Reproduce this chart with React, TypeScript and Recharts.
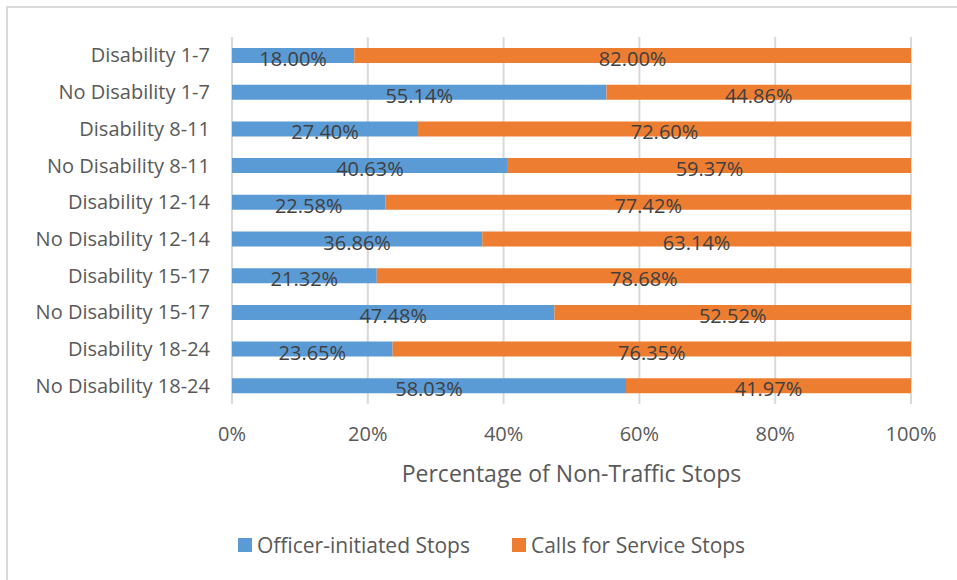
import React from 'react';
import { BarChart, Bar, XAxis, YAxis, CartesianGrid, LabelList } from 'recharts';

const categories = [
  'Disability 1-7',
  'No Disability 1-7',
  'Disability 8-11',
  'No Disability 8-11',
  'Disability 12-14',
  'No Disability 12-14',
  'Disability 15-17',
  'No Disability 15-17',
  'Disability 18-24',
  'No Disability 18-24',
];
const officerInitiated = [18.0, 55.14, 27.4, 40.63, 22.58, 36.86, 21.32, 47.48, 23.65, 58.03];
const callsForService = [82.0, 44.86, 72.6, 59.37, 77.42, 63.14, 78.68, 52.52, 76.35, 41.97];
const xTicks = [0, 20, 40, 60, 80, 100];
const seriesNames = ['Officer-initiated Stops', 'Calls for Service Stops'];
const seriesColors = ['#5B9BD5', '#ED7D31'];

const data = categories.map((c, i) => ({
  name: c,
  officer: officerInitiated[i],
  calls: callsForService[i],
}));

const FONT = '"Open Sans", "Liberation Sans", sans-serif';

const renderValue = (props: any) => {
  const { x, y, width, height, value } = props;
  return (
    <text
      x={Number(x) + Number(width) / 2}
      y={Number(y) + Number(height) / 2 + 3}
      textAnchor="middle"
      dominantBaseline="central"
      fill="#404040"
      fontSize={20}
      fontFamily={FONT}
    >
      {Number(value).toFixed(2) + '%'}
    </text>
  );
};

export default function App() {
  return (
    <div style={{ position: 'fixed', left: 0, top: 0, width: 957, height: 580, background: '#fff' }}>
      <div
        style={{
          position: 'absolute',
          left: 6,
          top: 6,
          width: 960,
          height: 580,
          borderLeft: '2px solid #d9d9d9',
          borderTop: '2px solid #d9d9d9',
        }}
      />
      <div style={{ position: 'absolute', left: 0, top: 0 }}>
        <BarChart
          width={957}
          height={580}
          data={data}
          layout="vertical"
          margin={{ top: 37, right: 46, bottom: 96, left: 10 }}
          barSize={15}
        >
          <CartesianGrid horizontal={false} vertical stroke="#d9d9d9" strokeWidth={2} />
          <XAxis
            type="number"
            domain={[0, 100]}
            ticks={xTicks}
            tickFormatter={(v: number) => v + '%'}
            axisLine={false}
            tickLine={false}
            tick={{ fill: '#595959', fontSize: 20, fontFamily: FONT }}
            tickMargin={17}
            height={80}
            label={{
              value: 'Percentage of Non-Traffic Stops',
              position: 'insideBottom',
              offset: 2,
              fill: '#595959',
              fontSize: 23,
              fontFamily: FONT,
            }}
          />
          <YAxis
            type="category"
            dataKey="name"
            width={222}
            axisLine={false}
            tickLine={false}
            tick={{ fill: '#595959', fontSize: 20, fontFamily: FONT }}
            tickMargin={16}
            interval={0}
          />
          <Bar dataKey="officer" name={seriesNames[0]} stackId="a" fill={seriesColors[0]} isAnimationActive={false}>
            <LabelList dataKey="officer" content={renderValue} />
          </Bar>
          <Bar dataKey="calls" name={seriesNames[1]} stackId="a" fill={seriesColors[1]} isAnimationActive={false}>
            <LabelList dataKey="calls" content={renderValue} />
          </Bar>
        </BarChart>
      </div>
      <div
        style={{
          position: 'absolute',
          left: 238,
          top: 531,
          display: 'flex',
          alignItems: 'center',
          fontFamily: FONT,
          fontSize: 21,
          color: '#595959',
          whiteSpace: 'nowrap',
        }}
      >
        {seriesNames.map((n, i) => (
          <div key={n} style={{ display: 'flex', alignItems: 'center', marginRight: i === 0 ? 42 : 0 }}>
            <div style={{ width: 14, height: 14, background: seriesColors[i], marginRight: 5 }} />
            <span>{n}</span>
          </div>
        ))}
      </div>
    </div>
  );
}
